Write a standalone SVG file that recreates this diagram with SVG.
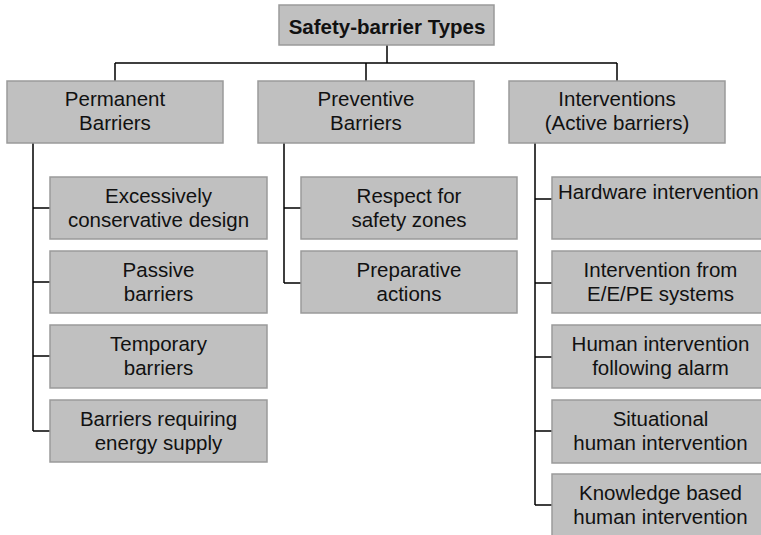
<svg xmlns="http://www.w3.org/2000/svg" width="761" height="535" viewBox="0 0 761 535">
<style>
.box{fill:#c0c0c0;stroke:#9a9a9a;stroke-width:1.5}
.t{font-family:"Liberation Sans",Arial,sans-serif;font-size:20.5px;fill:#111;text-anchor:middle}
.b{font-weight:bold}
.c{fill:none;stroke:#000;stroke-width:1.5}
</style>
<rect width="761" height="535" fill="#fff"/>
<g id="connectors">
<path class="c" d="M387 45V63M115 63H617M115 63V81M366 63V81M617 63V81"/>
<path class="c" d="M33 143V431M33 208H50M33 282H50M33 356H50M33 431H50"/>
<path class="c" d="M284 143V283M284 208H301M284 283H301"/>
<path class="c" d="M535 143V505M535 199H552M535 283H552M535 357H552M535 431H552M535 505H552"/>
</g>
<g id="root"><rect class="box" x="279" y="5" width="215" height="40"/><text class="t b" x="387" y="34">Safety-barrier Types</text></g>
<g id="permanent"><rect class="box" x="7" y="81" width="216" height="62"/><text class="t" x="115" y="106">Permanent</text><text class="t" x="115" y="130">Barriers</text></g>
<g id="preventive"><rect class="box" x="258" y="81" width="216" height="62"/><text class="t" x="366" y="106">Preventive</text><text class="t" x="366" y="130">Barriers</text></g>
<g id="interventions"><rect class="box" x="509" y="81" width="216" height="62"/><text class="t" x="617" y="106">Interventions</text><text class="t" x="617" y="130">(Active barriers)</text></g>
<g id="excessive"><rect class="box" x="50" y="177" width="217" height="62"/><text class="t" x="158.5" y="203">Excessively</text><text class="t" x="158.5" y="227">conservative design</text></g>
<g id="passive"><rect class="box" x="50" y="251" width="217" height="62"/><text class="t" x="158.5" y="277">Passive</text><text class="t" x="158.5" y="301">barriers</text></g>
<g id="temporary"><rect class="box" x="50" y="325" width="217" height="63"/><text class="t" x="158.5" y="351">Temporary</text><text class="t" x="158.5" y="375">barriers</text></g>
<g id="energy"><rect class="box" x="50" y="400" width="217" height="62"/><text class="t" x="158.5" y="426">Barriers requiring</text><text class="t" x="158.5" y="450">energy supply</text></g>
<g id="respect"><rect class="box" x="301" y="177" width="216" height="62"/><text class="t" x="409" y="203">Respect for</text><text class="t" x="409" y="227">safety zones</text></g>
<g id="preparative"><rect class="box" x="301" y="251" width="216" height="62"/><text class="t" x="409" y="277">Preparative</text><text class="t" x="409" y="301">actions</text></g>
<g id="hardware"><rect class="box" x="552" y="177" width="217" height="62"/><text class="t" x="558" y="198.5" style="text-anchor:start">Hardware intervention</text></g>
<g id="eepe"><rect class="box" x="552" y="251" width="217" height="62"/><text class="t" x="660.5" y="277">Intervention from</text><text class="t" x="660.5" y="301">E/E/PE systems</text></g>
<g id="alarm"><rect class="box" x="552" y="325" width="217" height="63"/><text class="t" x="660.5" y="351">Human intervention</text><text class="t" x="660.5" y="375">following alarm</text></g>
<g id="situational"><rect class="box" x="552" y="400" width="217" height="63"/><text class="t" x="660.5" y="426">Situational</text><text class="t" x="660.5" y="450">human intervention</text></g>
<g id="knowledge"><rect class="box" x="552" y="474" width="217" height="63"/><text class="t" x="660.5" y="500">Knowledge based</text><text class="t" x="660.5" y="524">human intervention</text></g>
</svg>
